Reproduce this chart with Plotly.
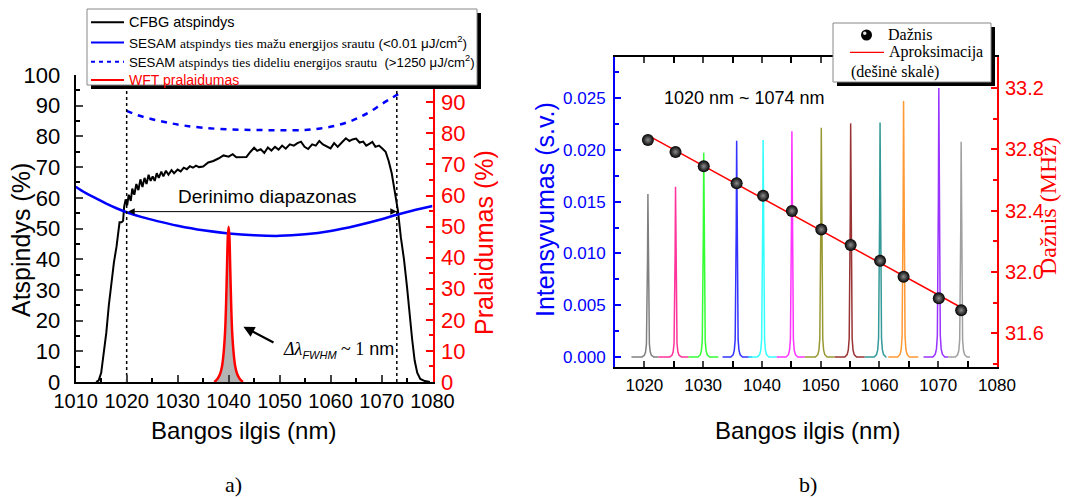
import numpy as np
import plotly.graph_objects as go

W, H = 1068, 498

# ---------------- a) reflectance / transmission spectra ----------------
cfbg_nm = [1014.0, 1014.5, 1015.0, 1015.5, 1016.0, 1016.5, 1017.0, 1017.5, 1018.0, 1018.4,
           1018.6, 1019.0, 1019.3, 1019.5, 1019.8, 1020.1, 1020.4, 1020.8, 1021.1, 1021.5,
           1021.9, 1022.3, 1022.7, 1023.1, 1023.5, 1023.9, 1024.3, 1024.7, 1025.1, 1025.5,
           1025.9, 1026.3, 1026.8, 1027.2, 1027.7, 1028.2, 1028.8, 1029.3, 1030.0, 1030.6,
           1031.2, 1031.8, 1032.4, 1033.0, 1033.6, 1034.2, 1035.0, 1036.0, 1037.0, 1038.0,
           1039.0, 1040.0, 1040.8, 1041.5, 1042.5, 1043.5, 1044.3, 1045.0, 1045.6, 1046.3,
           1047.0, 1047.7, 1048.4, 1049.1, 1049.8, 1050.5, 1051.2, 1052.0, 1052.8, 1053.5,
           1054.2, 1054.9, 1055.6, 1056.4, 1057.1, 1057.8, 1058.5, 1059.3, 1060.0, 1060.7,
           1061.4, 1062.2, 1063.0, 1063.7, 1064.3, 1065.0, 1065.7, 1066.4, 1067.0, 1067.6,
           1068.2, 1068.8, 1069.5, 1070.2, 1070.8, 1071.4, 1072.0, 1072.6, 1073.2, 1073.8,
           1074.4, 1075.0, 1075.5, 1076.0, 1076.5, 1077.0, 1077.6, 1078.5, 1079.5]
cfbg_r = [0.0, 0.5, 3.0, 9.0, 16.0, 25.0, 33.0, 39.0, 44.0, 50.0,
          52.0, 52.0, 52.5, 57.0, 59.5, 57.5, 61.0, 59.0, 63.0, 61.0,
          64.5, 62.5, 66.0, 63.5, 66.5, 64.5, 67.5, 65.5, 67.0, 65.5,
          68.0, 66.5, 68.5, 67.0, 68.8, 67.5, 69.0, 68.0, 69.2, 68.6,
          69.8, 69.3, 70.3, 69.8, 70.5, 70.0, 70.2, 71.5, 72.0, 72.8,
          73.8, 73.4, 74.2, 73.2, 73.2, 73.3, 75.0, 76.3, 75.3, 75.8,
          74.6, 76.4, 75.4, 76.6, 75.7, 77.0, 76.0, 77.4, 77.0, 77.8,
          78.3, 76.6, 75.9, 77.4, 77.0, 78.5, 77.4, 76.6, 76.1, 77.8,
          76.6, 78.0, 79.4, 78.5, 79.0, 79.3, 78.0, 78.3, 77.0, 77.6,
          78.2, 76.6, 77.0, 76.0, 75.0, 72.0, 68.0, 62.0, 56.0, 47.0,
          40.0, 31.0, 22.0, 14.0, 7.0, 3.0, 1.0, 0.3, 0.0]

sesam_low_nm = [1010, 1012, 1014, 1016, 1018, 1020, 1023, 1026, 1030, 1035,
                1040, 1045, 1050, 1055, 1060, 1065, 1070, 1073, 1076, 1080]
sesam_low_r = [63.6, 61.5, 59.8, 58.1, 56.6, 55.3, 53.7, 52.4, 50.9, 49.4,
               48.4, 47.8, 47.6, 48.1, 49.2, 50.9, 53.0, 54.5, 55.8, 57.3]

sesam_high_nm = [1020, 1022, 1025, 1028, 1031, 1035, 1040, 1045, 1050, 1055,
                 1058, 1061, 1064, 1066, 1068, 1070, 1072, 1073.5]
sesam_high_r = [88.3, 87.0, 85.6, 84.5, 83.6, 82.8, 82.3, 82.1, 82.0, 82.1,
                82.6, 83.5, 85.0, 86.5, 88.3, 90.5, 92.5, 94.0]

wft_nm = [1037.2, 1037.8, 1038.3, 1038.7, 1039.0, 1039.3, 1039.5, 1039.7, 1039.85, 1040.0,
          1040.15, 1040.3, 1040.5, 1040.7, 1041.0, 1041.3, 1041.7, 1042.2, 1042.8]
wft_t = [0.0, 1.0, 2.5, 5.0, 9.0, 16.0, 25.0, 38.0, 47.0, 50.0,
         47.0, 38.0, 25.0, 16.0, 9.0, 5.0, 2.5, 1.0, 0.0]

tuning_edges = [1020, 1073]
tuning_level = 55.5

# ---------------- b) tunable laser spectra and repetition rate ----------------
peak_nm = [1020.6, 1025.3, 1030.1, 1035.7, 1040.2, 1045.1, 1050.1, 1055.1, 1060.1, 1064.1, 1070.1, 1073.9]
peak_int = [0.01573, 0.01644, 0.01972, 0.02088, 0.02095, 0.02179,
            0.02213, 0.02256, 0.02265, 0.02471, 0.02597, 0.02078]
span_start = [1017.8, 1022.4, 1027.5, 1033.3, 1037.7, 1042.5, 1047.3, 1052.4, 1057.5, 1061.5, 1067.5, 1071.7]
span_end = [1022.4, 1027.5, 1032.6, 1038.3, 1042.5, 1047.3, 1052.4, 1057.5, 1061.2, 1066.6, 1071.7, 1075.4]
peak_colors = ["#808080", "#ff3399", "#33ff33", "#3333ff", "#33ffff", "#ff33ff",
               "#999933", "#993333", "#339999", "#ff9933", "#9933ff", "#a0a0a0"]
# relative line profile of a single lasing line
line_offsets = [-1.0, -0.6, -0.4, -0.25, -0.15, -0.07, 0.0, 0.07, 0.15, 0.25, 0.4, 0.6, 1.0]
line_shape = [0.0, 0.01, 0.03, 0.08, 0.25, 0.6, 1.0, 0.6, 0.25, 0.08, 0.03, 0.01, 0.0]

freq_mhz = [32.861, 32.783, 32.689, 32.578, 32.497, 32.398,
            32.277, 32.176, 32.073, 31.969, 31.828, 31.750]

SANS = "Liberation Sans, Arial, sans-serif"
NARROW = "Liberation Sans Narrow, Arial Narrow, Liberation Sans, sans-serif"
SERIF = "Liberation Serif, Times New Roman, serif"
RED = "#ff0000"
BLUE = "#0000ff"

fig = go.Figure()

# ---- a) traces
fig.add_trace(go.Scatter(x=cfbg_nm, y=cfbg_r, mode="lines",
                         line=dict(color="black", width=2), xaxis="x", yaxis="y"))
fig.add_trace(go.Scatter(x=sesam_low_nm, y=sesam_low_r, mode="lines", line_shape="spline",
                         line=dict(color=BLUE, width=2.5), xaxis="x", yaxis="y"))
fig.add_trace(go.Scatter(x=sesam_high_nm, y=sesam_high_r, mode="lines", line_shape="spline",
                         line=dict(color=BLUE, width=2.5, dash="6px,6px"), xaxis="x", yaxis="y"))
for edge in tuning_edges:
    fig.add_trace(go.Scatter(x=[edge, edge], y=[0, 100], mode="lines",
                             line=dict(color="black", width=1.5, dash="dot"), xaxis="x", yaxis="y"))
fig.add_trace(go.Scatter(x=wft_nm, y=wft_t, mode="lines", line_shape="spline",
                         fill="tozeroy", fillcolor="#b4b4b4",
                         line=dict(color=RED, width=2.5), xaxis="x", yaxis="y2"))

# ---- b) traces
for c, h, s, e, col in zip(peak_nm, peak_int, span_start, span_end, peak_colors):
    xs = [s] + [c + o for o in line_offsets] + [e]
    ys = [0.0] + [h * v for v in line_shape] + [0.0]
    fig.add_trace(go.Scatter(x=xs, y=ys, mode="lines", line=dict(color=col, width=1.5),
                             xaxis="x2", yaxis="y3"))

coef = np.polyfit(peak_nm, freq_mhz, 1)
fit_x = [peak_nm[0], peak_nm[-1]]
fit_y = list(np.polyval(coef, fit_x))
fig.add_trace(go.Scatter(x=fit_x, y=fit_y, mode="lines", line=dict(color=RED, width=1.5),
                         xaxis="x2", yaxis="y4"))
fig.add_trace(go.Scatter(x=peak_nm, y=freq_mhz, mode="markers",
                         marker=dict(color="black", size=12,
                                     gradient=dict(type="radial", color="#8c8c8c"),
                                     line=dict(width=0)),
                         xaxis="x2", yaxis="y4"))


def px(x):
    return x / W


def py(y):
    return 1 - y / H


common = dict(showgrid=False, zeroline=False, showline=True, ticks="inside", tickwidth=1.5,
              automargin=False)

fig.update_layout(
    width=W, height=H, margin=dict(l=0, r=0, t=0, b=0),
    paper_bgcolor="white", plot_bgcolor="white", showlegend=False,
    xaxis=dict(domain=[px(75.7), px(432.5)], anchor="y", range=[1010, 1080], dtick=10, tick0=1010,
               linecolor="black", linewidth=2, ticklen=7,
               minor=dict(ticks="inside", dtick=5, ticklen=4, tickwidth=1.5, tickcolor="black"),
               tickfont=dict(family=NARROW, size=20, color="black"), **common),
    yaxis=dict(domain=[py(382), py(75)], anchor="x", range=[0, 100], dtick=10,
               linecolor="black", linewidth=2, ticklen=7, ticklabelstandoff=9,
               minor=dict(ticks="inside", dtick=5, ticklen=4, tickwidth=1.5, tickcolor="black"),
               tickfont=dict(family=SANS, size=22, color="black"), **common),
    yaxis2=dict(overlaying="y", anchor="x", side="right", range=[0, 98.8], dtick=10,
                linecolor=RED, linewidth=2, ticklen=7, tickcolor=RED, ticklabelstandoff=2,
                minor=dict(ticks="inside", dtick=5, ticklen=4, tickwidth=1.5, tickcolor=RED),
                tickfont=dict(family=SANS, size=22, color=RED), **common),
    xaxis2=dict(domain=[px(615), px(997)], anchor="y3", range=[1015, 1080], dtick=10, tick0=1020,
                linecolor="black", linewidth=2, ticklen=6, mirror="ticks", ticklabelstandoff=2,
                minor=dict(ticks="inside", dtick=5, ticklen=6, tickwidth=1.5, tickcolor="black"),
                tickfont=dict(family=NARROW, size=17, color="black"), **common),
    yaxis3=dict(domain=[py(367), py(56.7)], anchor="x2", range=[-0.00097, 0.0290], dtick=0.005,
                tick0=0, tickformat=".3f", linecolor=BLUE, linewidth=2, ticklen=6, tickcolor=BLUE,
                ticklabelstandoff=4,
                minor=dict(ticks="inside", dtick=0.0025, ticklen=4, tickwidth=1.5, tickcolor=BLUE),
                tickfont=dict(family=SANS, size=17, color=BLUE), **common),
    yaxis4=dict(overlaying="y3", anchor="x2", side="right", range=[31.38, 33.404], dtick=0.4,
                tick0=31.6, tickformat=".1f", linecolor=RED, linewidth=2, ticklen=6, tickcolor=RED,
                ticklabelstandoff=2,
                minor=dict(ticks="inside", dtick=0.2, ticklen=4, tickwidth=1.5, tickcolor=RED),
                tickfont=dict(family=SANS, size=20, color=RED), **common),
)

ann = []


def text(x, y, s, size, color="black", family=SANS, angle=0, xanchor="center", **kw):
    ann.append(dict(x=px(x), y=py(y), xref="paper", yref="paper", text=s, showarrow=False,
                    font=dict(family=family, size=size, color=color), textangle=angle,
                    xanchor=xanchor, yanchor="middle", **kw))


# axis titles
text(21, 240, "Atspindys (%)", 25, angle=-90)
text(484, 243, "Pralaidumas (%)", 25, color=RED, angle=-90)
text(243, 430, "Bangos ilgis (nm)", 24)
text(545, 210, "Intensyvumas (s.v.)", 25, color=BLUE, angle=-90)
text(1048, 206, "Dažnis (MHz)", 24, color=RED, family=SERIF, angle=-90)
text(807, 430, "Bangos ilgis (nm)", 24)
text(233, 484, "a)", 22, family=SERIF)
text(808, 484, "b)", 22, family=SERIF)
text(744, 98, "1020 nm ~ 1074 nm", 18)

# in-plot annotations of panel a)
ann.append(dict(x=1047.7, y=60.4, xref="x", yref="y", text="Derinimo diapazonas", showarrow=False,
                font=dict(family=SANS, size=19, color="black")))
ann.append(dict(x=tuning_edges[1], y=tuning_level, ax=tuning_edges[0], ay=tuning_level,
                xref="x", yref="y", axref="x", ayref="y", text="", showarrow=True,
                arrowhead=2, arrowside="end+start", arrowsize=1.3, arrowwidth=1, arrowcolor="black"))
ann.append(dict(x=1042.9, y=18.0, ax=1049.1, ay=12.6, xref="x", yref="y", axref="x", ayref="y",
                text="", showarrow=True, arrowhead=2, arrowsize=1, arrowwidth=2.2,
                arrowcolor="black"))
ann.append(dict(x=1050.3, y=10.4, xref="x", yref="y", xanchor="left", showarrow=False,
                text=("<span style='font-family:Liberation Serif'><i>Δλ</i></span>"
                      "<sub><i><span style='font-size:11px'>FWHM</span></i></sub>"
                      "<span style='font-family:Liberation Serif'> ~ 1</span> nm"),
                font=dict(family=SANS, size=18, color="black")))

shapes = []


def rect(x0, y0, x1, y1, fill, line_color=None, lw=0):
    shapes.append(dict(type="rect", xref="paper", yref="paper", x0=px(x0), x1=px(x1),
                       y0=py(y1), y1=py(y0), fillcolor=fill, layer="above",
                       line=dict(color=line_color or fill, width=lw)))


def seg(x0, x1, y, color, width=2, dash="solid"):
    shapes.append(dict(type="line", xref="paper", yref="paper", x0=px(x0), x1=px(x1),
                       y0=py(y), y1=py(y), layer="above", line=dict(color=color, width=width, dash=dash)))


# legend of panel a)
rect(91, 13, 481, 89, "black")
rect(87, 9, 477, 85, "white", "#888888", 1)
seg(91, 124, 22.3, "black")
seg(91, 124, 42.5, BLUE)
seg(91, 124, 61.7, BLUE, dash="4px,4px")
seg(91, 124, 80, RED)
text(127, 22.3, "CFBG atspindys", 14.5, xanchor="left")
text(127, 42.5, ("SESAM <span style='font-family:Liberation Serif'>atspindys ties mažu energijos "
                 "srautu</span> (&lt;0.01 μJ/cm<sup>2</sup>)"), 13.5, xanchor="left")
text(127, 61.7, ("SESAM <span style='font-family:Liberation Serif'>atspindys ties dideliu energijos "
                 "srautu</span>  (&gt;1250 μJ/cm<sup>2</sup>)"), 13.2, xanchor="left")
text(127, 80, "WFT pralaidumas", 14, color=RED, xanchor="left")

# legend of panel b)
rect(837, 27, 995, 86, "black")
rect(833, 23, 991, 82, "white", "#888888", 1)
shapes.append(dict(type="circle", xref="paper", yref="paper", x0=px(861), x1=px(872),
                   y0=py(40.5), y1=py(29.5), fillcolor="black", layer="above", line=dict(width=0)))
shapes.append(dict(type="circle", xref="paper", yref="paper", x0=px(863), x1=px(866.5),
                   y0=py(35), y1=py(31.5), fillcolor="#e0e0e0", layer="above", line=dict(width=0)))
seg(850, 884, 52.3, RED, width=1.2)
text(886, 35, "Dažnis", 16, family=SERIF, xanchor="left")
text(887, 52.3, "Aproksimacija", 16, family=SERIF, xanchor="left")
text(849, 71.5, "(dešinė skalė)", 16, family=SERIF, xanchor="left")

fig.update_layout(annotations=ann, shapes=shapes)

fig.write_html("out.html")
